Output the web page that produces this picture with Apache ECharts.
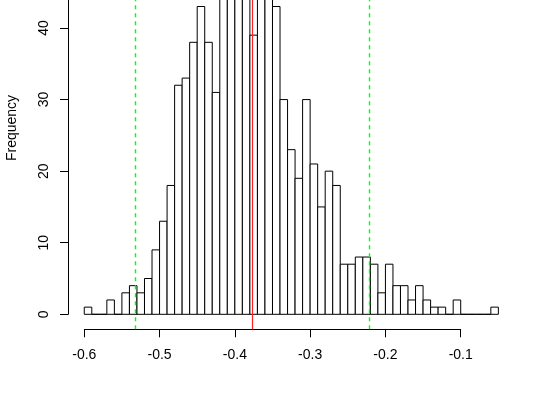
<!DOCTYPE html>
<html>
<head>
<meta charset="utf-8">
<script src="https://cdn.jsdelivr.net/npm/echarts@6/dist/echarts.min.js"></script>
<style>
  html, body { margin: 0; padding: 0; background: #fff; }
  #chart { width: 550px; height: 414px; }
</style>
</head>
<body>
<div id="chart"></div>
<script>
// histogram bins: left edge of first bin and bin width
const binStart = -0.6;
const binWidth = 0.01;
// counts per bin, from -0.60 up to -0.05
const counts = [
  1, 0, 0, 2, 0, 3, 4, 3, 5, 9,
  13, 18, 32, 33, 38, 43, 38, 31, 46, 50,
  52, 50, 39, 48, 47, 43, 30, 23, 19, 30,
  21, 15, 20, 18, 7, 7, 8, 8, 7, 3,
  7, 4, 4, 2, 4, 2, 1, 1, 0, 2,
  0, 0, 0, 0, 1
];
// reference lines
const meanValue = -0.3765;
const lowerValue = -0.5318;
const upperValue = -0.2212;
// tick labels
const xTicks = [-0.6, -0.5, -0.4, -0.3, -0.2, -0.1];
const yTicks = [0, 10, 20, 30, 40];

const font = "Liberation Sans, Arial, sans-serif";
const bins = counts.map((c, i) => [
  +(binStart + i * binWidth).toFixed(2),
  +(binStart + (i + 1) * binWidth).toFixed(2),
  c
]);

const chart = echarts.init(document.getElementById("chart"));
chart.setOption({
  animation: false,
  backgroundColor: "#fff",
  grid: [
    // plot region
    { left: 68, right: 35, top: 0, bottom: 84.7 },
    // x axis (only spans the ticks)
    { left: 84.3, right: 89.3, top: 0, bottom: 84.7 },
    // y axis (starts at 0)
    { left: 68, right: 35, top: 0, bottom: 99.7 },
  ],
  xAxis: [
    { gridIndex: 0, type: "value", min: -0.6216, max: -0.0279, show: false },
    {
      gridIndex: 1,
      type: "value",
      min: -0.6,
      max: -0.1,
      splitLine: { show: false },
      axisLine: { lineStyle: { color: "#000", width: 1 } },
      axisTick: { length: 8, lineStyle: { color: "#000" }, customValues: xTicks },
      axisLabel: {
        color: "#000",
        fontSize: 14,
        fontFamily: font,
        margin: 19,
        customValues: xTicks,
      },
    },
    { gridIndex: 2, type: "value", show: false },
  ],
  yAxis: [
    { gridIndex: 0, type: "value", min: -2.096, max: 43.91, show: false },
    { gridIndex: 1, type: "value", show: false },
    {
      gridIndex: 2,
      type: "value",
      min: 0,
      max: 43.91,
      splitLine: { show: false },
      axisLine: { show: true, lineStyle: { color: "#000", width: 1 } },
      axisTick: { show: true, length: 8, lineStyle: { color: "#000" }, customValues: yTicks },
      axisLabel: {
        color: "#000",
        fontSize: 14,
        fontFamily: font,
        rotate: 90,
        margin: 17,
        customValues: yTicks,
      },
    },
  ],
  graphic: [
    {
      type: "text",
      x: 12,
      y: 128,
      rotation: Math.PI / 2,
      style: {
        text: "Frequency",
        fill: "#000",
        font: "14px " + font,
        textAlign: "center",
        textVerticalAlign: "middle",
      },
    },
  ],
  series: [
    {
      type: "custom",
      xAxisIndex: 0,
      yAxisIndex: 0,
      clip: true,
      data: bins,
      renderItem(params, api) {
        const p0 = api.coord([api.value(0), 0]);
        const p1 = api.coord([api.value(1), api.value(2)]);
        return {
          type: "rect",
          shape: { x: p0[0], y: p1[1], width: p1[0] - p0[0], height: p0[1] - p1[1] },
          style: { fill: "#fff", stroke: "#000", lineWidth: 1 },
        };
      },
      markLine: {
        silent: true,
        symbol: "none",
        precision: 4,
        label: { show: false },
        data: [
          { xAxis: meanValue, lineStyle: { color: "#ff2020", width: 1.2, type: "solid", opacity: 1 } },
          { xAxis: lowerValue, lineStyle: { color: "#00ff00", width: 1.4, type: [4, 4], opacity: 1 } },
          { xAxis: upperValue, lineStyle: { color: "#00ff00", width: 1.4, type: [4, 4], opacity: 1 } },
        ],
      },
    },
  ],
});
</script>
</body>
</html>
